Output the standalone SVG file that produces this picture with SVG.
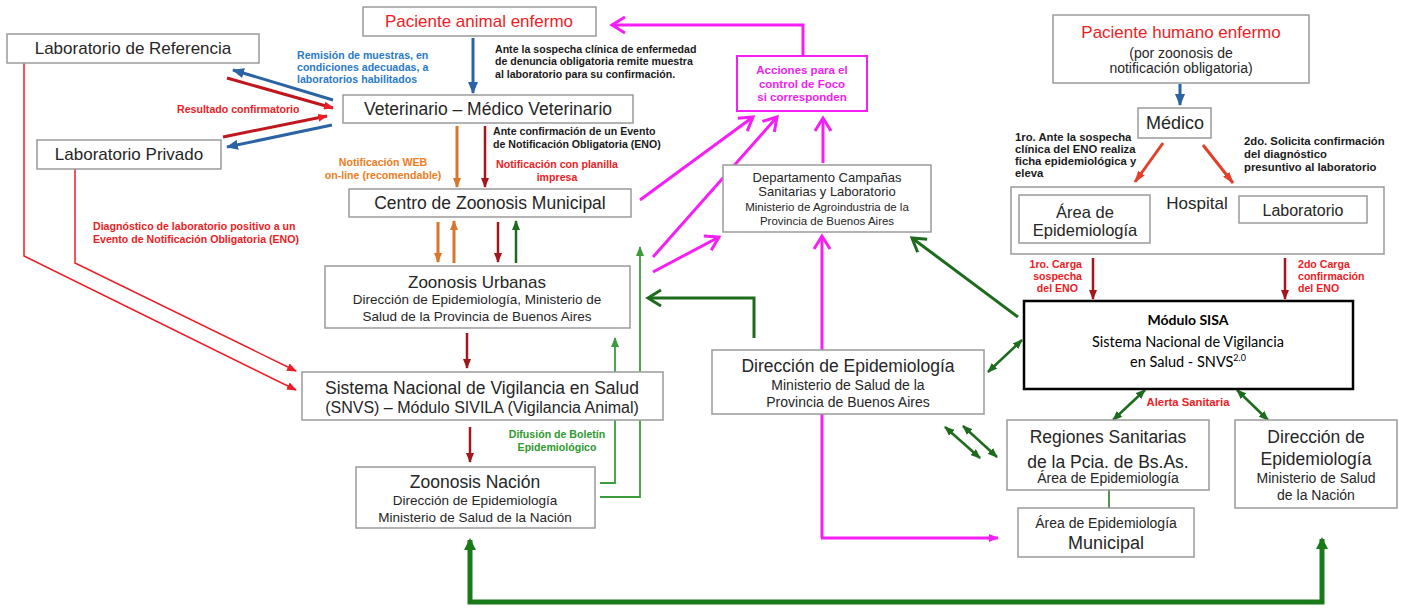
<svg xmlns="http://www.w3.org/2000/svg" width="1404" height="608" viewBox="0 0 1404 608">
<style>
.box{fill:#fff;stroke:#9a9a9a;stroke-width:1.5}
.t{font-family:"Liberation Sans",Arial,sans-serif;fill:#262626;text-anchor:middle}
.s{font-family:"Liberation Sans",Arial,sans-serif;font-weight:bold;font-size:10.6px}
.m{font-size:11.3px}
.c{fill:none}
</style>
<defs>
<marker id="aBlue" markerUnits="userSpaceOnUse" markerWidth="12" markerHeight="10" refX="11" refY="5" orient="auto"><path d="M0,0 L12,5 L0,10 z" fill="#2b63a3"/></marker>
<marker id="aOr" markerUnits="userSpaceOnUse" markerWidth="10" markerHeight="8" refX="9" refY="4" orient="auto"><path d="M0,0 L10,4 L0,8 z" fill="#d9762b"/></marker>
<marker id="aDr" markerUnits="userSpaceOnUse" markerWidth="10" markerHeight="8" refX="9" refY="4" orient="auto"><path d="M0,0 L10,4 L0,8 z" fill="#a3161c"/></marker>
<marker id="aRed" markerUnits="userSpaceOnUse" markerWidth="10" markerHeight="8" refX="9" refY="4" orient="auto"><path d="M0,0 L10,4 L0,8 z" fill="#ee1c25"/></marker>
<marker id="aRO" markerUnits="userSpaceOnUse" markerWidth="12" markerHeight="8" refX="11" refY="4" orient="auto"><path d="M0,0 L12,4 L0,8 z" fill="#e2402a"/></marker>
<marker id="aDg" markerUnits="userSpaceOnUse" markerWidth="10" markerHeight="8" refX="9" refY="4" orient="auto-start-reverse"><path d="M0,0 L10,4 L0,8 z" fill="#1d6b1d"/></marker>
<marker id="aLg" markerUnits="userSpaceOnUse" markerWidth="10" markerHeight="8" refX="9" refY="4" orient="auto"><path d="M0,0 L10,4 L0,8 z" fill="#3c9c3c"/></marker>
<marker id="aTg" markerUnits="userSpaceOnUse" markerWidth="12" markerHeight="12" refX="10" refY="6" orient="auto-start-reverse"><path d="M0,0 L12,6 L0,12 z" fill="#1a7a1a"/></marker>
<marker id="vMg" markerUnits="userSpaceOnUse" markerWidth="18" markerHeight="20" refX="15" refY="10" orient="auto"><path d="M2,2 L15,10 L2,18" fill="none" stroke="#f51ef5" stroke-width="3"/></marker>
<marker id="aMg" markerUnits="userSpaceOnUse" markerWidth="10" markerHeight="8" refX="9" refY="4" orient="auto"><path d="M0,0 L10,4 L0,8 z" fill="#f51ef5"/></marker>
<marker id="vDg" markerUnits="userSpaceOnUse" markerWidth="18" markerHeight="20" refX="15" refY="10" orient="auto"><path d="M2,2 L15,10 L2,18" fill="none" stroke="#1d6b1d" stroke-width="3"/></marker>
</defs>
<rect width="1404" height="608" fill="#fff"/>

<g id="connectors">
 <line x1="473" y1="38" x2="473" y2="93" stroke="#2b63a3" stroke-width="3" marker-end="url(#aBlue)"/>
 <line x1="333" y1="100" x2="233" y2="70" stroke="#2b63a3" stroke-width="3" marker-end="url(#aBlue)"/>
 <line x1="227" y1="78" x2="333" y2="108" stroke="#c0161e" stroke-width="3" marker-end="url(#aRed)"/>
 <line x1="223" y1="137" x2="327" y2="116" stroke="#c0161e" stroke-width="3" marker-end="url(#aRed)"/>
 <line x1="332" y1="125" x2="227" y2="147" stroke="#2b63a3" stroke-width="3" marker-end="url(#aBlue)"/>
 <polyline class="c" points="24,63 24,256 296,390" stroke="#ee1c25" stroke-width="1.5" marker-end="url(#aRed)"/>
 <polyline class="c" points="75,169 75,263 296,371" stroke="#ee1c25" stroke-width="1.5" marker-end="url(#aRed)"/>
 <line x1="457" y1="126" x2="457" y2="187" stroke="#d9762b" stroke-width="3" marker-end="url(#aOr)"/>
 <line x1="485" y1="126" x2="485" y2="187" stroke="#a3161c" stroke-width="2.5" marker-end="url(#aDr)"/>
 <line x1="438" y1="222" x2="438" y2="262" stroke="#d9762b" stroke-width="3" marker-end="url(#aOr)"/>
 <line x1="454" y1="263" x2="454" y2="221" stroke="#d9762b" stroke-width="3" marker-end="url(#aOr)"/>
 <line x1="498" y1="222" x2="498" y2="262" stroke="#a3161c" stroke-width="2.5" marker-end="url(#aDr)"/>
 <line x1="516" y1="263" x2="516" y2="221" stroke="#1d6b1d" stroke-width="2.5" marker-end="url(#aDg)"/>
 <line x1="467" y1="333" x2="467" y2="368" stroke="#a3161c" stroke-width="2.5" marker-end="url(#aDr)"/>
 <line x1="470" y1="427" x2="470" y2="462" stroke="#a3161c" stroke-width="2.5" marker-end="url(#aDr)"/>
 <polyline class="c" points="600,483 615,483 615,338" stroke="#3c9c3c" stroke-width="1.8" marker-end="url(#aLg)"/>
 <polyline class="c" points="600,497 640,497 640,247" stroke="#3c9c3c" stroke-width="1.8" marker-end="url(#aLg)"/>
 <polyline class="c" points="803,56 803,25 612,25" stroke="#f51ef5" stroke-width="3" marker-end="url(#vMg)"/>
 <line x1="640" y1="200" x2="753" y2="117" stroke="#f51ef5" stroke-width="3" marker-end="url(#vMg)"/>
 <line x1="653" y1="257" x2="777" y2="117" stroke="#f51ef5" stroke-width="3" marker-end="url(#vMg)"/>
 <line x1="653" y1="272" x2="719" y2="237" stroke="#f51ef5" stroke-width="3" marker-end="url(#vMg)"/>
 <line x1="823" y1="163" x2="823" y2="118" stroke="#f51ef5" stroke-width="3" marker-end="url(#vMg)"/>
 <polyline class="c" points="822,538 822,236" stroke="#f51ef5" stroke-width="3" marker-end="url(#vMg)"/>
 <line x1="821" y1="538" x2="998" y2="538" stroke="#f51ef5" stroke-width="3" marker-end="url(#aMg)"/>
 <polyline class="c" points="754,338 754,298 648,298" stroke="#1d6b1d" stroke-width="3" marker-end="url(#vDg)"/>
 <line x1="1018" y1="317" x2="912" y2="238" stroke="#1d6b1d" stroke-width="3" marker-end="url(#vDg)"/>
 <line x1="988" y1="372" x2="1022" y2="340" stroke="#1d6b1d" stroke-width="2.5" marker-start="url(#aDg)" marker-end="url(#aDg)"/>
 <line x1="945" y1="427" x2="980" y2="458" stroke="#1d6b1d" stroke-width="2.5" marker-start="url(#aDg)" marker-end="url(#aDg)"/>
 <line x1="963" y1="426" x2="997" y2="457" stroke="#1d6b1d" stroke-width="2.5" marker-start="url(#aDg)" marker-end="url(#aDg)"/>
 <line x1="1145" y1="390" x2="1113" y2="420" stroke="#1d6b1d" stroke-width="2.5" marker-start="url(#aDg)" marker-end="url(#aDg)"/>
 <line x1="1237" y1="390" x2="1268" y2="420" stroke="#1d6b1d" stroke-width="2.5" marker-start="url(#aDg)" marker-end="url(#aDg)"/>
 <line x1="1109" y1="490" x2="1109" y2="508" stroke="#1d6b1d" stroke-width="1.5"/>
 <path class="c" d="M470,540 L470,602 L1322,602 L1322,539" stroke="#1a7a1a" stroke-width="5" marker-start="url(#aTg)" marker-end="url(#aTg)"/>
 <line x1="1180" y1="84" x2="1180" y2="105" stroke="#2b63a3" stroke-width="3" marker-end="url(#aBlue)"/>
 <line x1="1163" y1="143" x2="1135" y2="182" stroke="#e2402a" stroke-width="3" marker-end="url(#aRO)"/>
 <line x1="1203" y1="145" x2="1233" y2="183" stroke="#e2402a" stroke-width="3" marker-end="url(#aRO)"/>
 <line x1="1093" y1="258" x2="1093" y2="299" stroke="#a3161c" stroke-width="2.5" marker-end="url(#aDr)"/>
 <line x1="1285" y1="258" x2="1285" y2="299" stroke="#a3161c" stroke-width="2.5" marker-end="url(#aDr)"/>
</g>

<g id="labels">
 <text class="s" fill="#1a1a1a"><tspan x="495" y="53">Ante la sospecha clínica de enfermedad</tspan><tspan x="495" y="65">de denuncia obligatoria remite muestra</tspan><tspan x="495" y="78">al laboratorio para su confirmación.</tspan></text>
 <text class="s" fill="#2a7ac8"><tspan x="297" y="59">Remisión de muestras, en</tspan><tspan x="297" y="71">condiciones adecuadas, a</tspan><tspan x="297" y="83">laboratorios habilitados</tspan></text>
 <text class="s" fill="#ee1c25" x="177" y="113">Resultado confirmatorio</text>
 <text class="s" fill="#1a1a1a"><tspan x="493" y="135">Ante confirmación de un Evento</tspan><tspan x="493" y="148">de Notificación Obligatoria (ENO)</tspan></text>
 <text class="s" fill="#ef7d22" text-anchor="middle"><tspan x="383" y="166">Notificación WEB</tspan><tspan x="383" y="179">on-line (recomendable)</tspan></text>
 <text class="s" fill="#ee1c25" text-anchor="middle"><tspan x="557" y="168">Notificación con planilla</tspan><tspan x="557" y="181">impresa</tspan></text>
 <text class="s" fill="#ee1c25"><tspan x="93" y="230">Diagnóstico de laboratorio positivo a un</tspan><tspan x="93" y="243">Evento de Notificación Obligatoria (ENO)</tspan></text>
 <text class="s" fill="#2e9a2e" text-anchor="middle"><tspan x="557" y="438">Difusión de Boletín</tspan><tspan x="557" y="451">Epidemiológico</tspan></text>
 <text class="s m" fill="#1a1a1a"><tspan x="1015" y="141">1ro. Ante la sospecha</tspan><tspan x="1015" y="153">clínica del ENO realiza</tspan><tspan x="1015" y="165">ficha epidemiológica y</tspan><tspan x="1015" y="177">eleva</tspan></text>
 <text class="s m" fill="#1a1a1a"><tspan x="1244" y="145">2do. Solicita confirmación</tspan><tspan x="1244" y="158">del diagnóstico</tspan><tspan x="1244" y="171">presuntivo al laboratorio</tspan></text>
 <text class="s" fill="#ee1c25" text-anchor="end"><tspan x="1082" y="268">1ro. Carga</tspan><tspan x="1082" y="280">sospecha</tspan><tspan x="1078" y="292">del ENO</tspan></text>
 <text class="s" fill="#ee1c25"><tspan x="1298" y="268">2do Carga</tspan><tspan x="1298" y="280">confirmación</tspan><tspan x="1298" y="292">del ENO</tspan></text>
 <text class="s m" fill="#ee1c25" text-anchor="middle" x="1188" y="406">Alerta Sanitaria</text>
</g>

<g id="lab-referencia"><rect class="box" x="7" y="34" width="252" height="29"/><text class="t" x="133" y="54" font-size="17">Laboratorio de Referencia</text></g>
<g id="lab-privado"><rect class="box" x="37" y="140" width="184" height="29"/><text class="t" x="129" y="160" font-size="17">Laboratorio Privado</text></g>
<g id="paciente-animal"><rect class="box" x="363" y="7" width="233" height="29"/><text class="t" x="479" y="27" font-size="17" style="fill:#ee1c25">Paciente animal enfermo</text></g>
<g id="veterinario"><rect class="box" x="343" y="95" width="290" height="28"/><text class="t" x="488" y="115" font-size="17.5">Veterinario – Médico Veterinario</text></g>
<g id="centro-zoonosis"><rect class="box" x="349" y="189" width="282" height="28"/><text class="t" x="490" y="209" font-size="17.5">Centro de Zoonosis Municipal</text></g>
<g id="zoonosis-urbanas"><rect class="box" x="325" y="266" width="305" height="62"/><text class="t" x="477" y="288" font-size="17">Zoonosis Urbanas</text><text class="t" x="477" y="304" font-size="13.5">Dirección de Epidemiología, Ministerio de</text><text class="t" x="477" y="321" font-size="13.5">Salud de la Provincia de Buenos Aires</text></g>
<g id="snvs"><rect class="box" x="302" y="372" width="361" height="48"/><text class="t" x="482" y="394" font-size="17.5">Sistema Nacional de Vigilancia en Salud</text><text class="t" x="482" y="413" font-size="16">(SNVS) – Módulo SIVILA (Vigilancia Animal)</text></g>
<g id="zoonosis-nacion"><rect class="box" x="356" y="467" width="239" height="61"/><text class="t" x="475" y="488" font-size="17.5">Zoonosis Nación</text><text class="t" x="475" y="505" font-size="13.5">Dirección de Epidemiología</text><text class="t" x="475" y="522" font-size="13.5">Ministerio de Salud de la Nación</text></g>
<g id="acciones"><rect x="737" y="56" width="130" height="55" fill="#fff" stroke="#f51ef5" stroke-width="2"/><text class="s" fill="#f01ef0" text-anchor="middle" style="font-size:11.5px"><tspan x="802" y="74">Acciones para el</tspan><tspan x="802" y="88">control de Foco</tspan><tspan x="802" y="101">si corresponden</tspan></text></g>
<g id="departamento"><rect class="box" x="723" y="165" width="208" height="67"/><text class="t" x="827" y="182" font-size="13">Departamento Campañas</text><text class="t" x="827" y="196" font-size="13">Sanitarias y Laboratorio</text><text class="t" x="827" y="211" font-size="11.5">Ministerio de Agroindustria de la</text><text class="t" x="827" y="225" font-size="11.5">Provincia de Buenos Aires</text></g>
<g id="direccion-provincia"><rect class="box" x="712" y="350" width="272" height="64"/><text class="t" x="848" y="372" font-size="17.5">Dirección de Epidemiología</text><text class="t" x="848" y="390" font-size="14">Ministerio de Salud de la</text><text class="t" x="848" y="407" font-size="14">Provincia de Buenos Aires</text></g>
<g id="paciente-humano"><rect class="box" x="1053" y="15" width="256" height="68"/><text class="t" x="1181" y="38" font-size="17" style="fill:#ee1c25">Paciente humano enfermo</text><text class="t" x="1181" y="58" font-size="14">(por zoonosis de</text><text class="t" x="1181" y="73" font-size="14">notificación obligatoria)</text></g>
<g id="medico"><rect class="box" x="1138" y="108" width="73" height="30"/><text class="t" x="1175" y="129" font-size="18">Médico</text></g>
<g id="hospital"><rect class="box" x="1011" y="187" width="373" height="67"/><text class="t" x="1197" y="209" font-size="17">Hospital</text>
 <g id="area-epidemiologia-hospital"><rect class="box" x="1019" y="195" width="131" height="48"/><text class="t" x="1085" y="218" font-size="16.5">Área de</text><text class="t" x="1085" y="236" font-size="16.5">Epidemiología</text></g>
 <g id="laboratorio-hospital"><rect class="box" x="1239" y="196" width="128" height="27"/><text class="t" x="1303" y="216" font-size="16">Laboratorio</text></g>
</g>
<g id="modulo-sisa"><rect x="1024" y="301" width="329" height="88" fill="#fff" stroke="#000" stroke-width="2.5"/><text class="t" x="1188" y="325" font-size="14" font-weight="bold" style="font-family:Lato,'Liberation Sans',sans-serif;fill:#000">Módulo SISA</text><text class="t" x="1188" y="347" font-size="14.5" style="font-family:Lato,'Liberation Sans',sans-serif;fill:#000">Sistema Nacional de Vigilancia</text><text class="t" x="1188" y="367" font-size="14.5" style="font-family:Lato,'Liberation Sans',sans-serif;fill:#000">en Salud - SNVS<tspan font-size="9" dy="-6">2.0</tspan></text></g>
<g id="regiones-sanitarias"><rect class="box" x="1007" y="420" width="202" height="70"/><text class="t" x="1108" y="443" font-size="17.5">Regiones Sanitarias</text><text class="t" x="1108" y="468" font-size="17.5">de la Pcia. de Bs.As.</text><text class="t" x="1108" y="483" font-size="14">Área de Epidemiología</text></g>
<g id="direccion-nacion"><rect class="box" x="1235" y="420" width="162" height="88"/><text class="t" x="1316" y="443" font-size="17.5">Dirección de</text><text class="t" x="1316" y="465" font-size="17.5">Epidemiología</text><text class="t" x="1316" y="483" font-size="14">Ministerio de Salud</text><text class="t" x="1316" y="500" font-size="14">de la Nación</text></g>
<g id="area-municipal"><rect class="box" x="1018" y="508" width="176" height="49"/><text class="t" x="1106" y="528" font-size="14">Área de Epidemiología</text><text class="t" x="1106" y="549" font-size="18">Municipal</text></g>
</svg>
